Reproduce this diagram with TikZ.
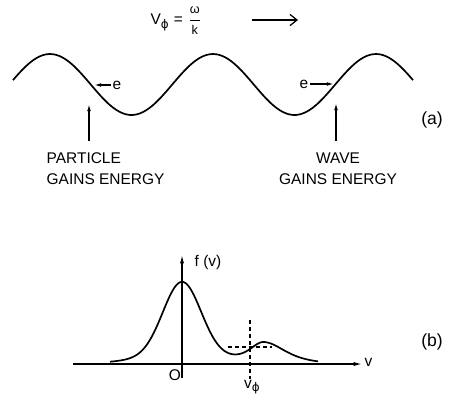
\documentclass[tikz,border=0pt]{standalone}
\usepackage{fontspec}
\setmainfont{Liberation Sans}
\newfontfamily\phifont{DejaVu Sans}
\usetikzlibrary{arrows.meta}
\newcommand{\vphi}{\raisebox{-0.45ex}{\phifont\fontsize{8.5}{10}\selectfont ϕ}}
\tikzset{
  lbl/.style={inner sep=1pt, font=\fontsize{11}{15}\selectfont},
  tag/.style={inner sep=1pt, font=\fontsize{12.5}{15}\selectfont},
  wave/.style={line width=1.2pt},
  pointer/.style={line width=0.9pt, -{Latex[length=5pt,width=2.6pt]}},
  axis/.style={line width=0.9pt, -{Latex[length=6pt,width=3pt]}},
  guide/.style={line width=0.8pt, dash pattern=on 3pt off 2pt},
  declare function={
    fmain(\v)=74*exp(-((\v-182)/19)^2/2)+8*exp(-((\v-182)/45)^2/2);
    fbump(\v)=20.5/(1+((\v-264)/((\v<264)?26:40))^2)^2;
  }
}
\begin{document}
\begin{tikzpicture}[x=0.025cm, y=-0.025cm]
\useasboundingbox (0,0) rectangle (454,397);

% Phase velocity
\node[lbl] (vphase) at (176,21) {V\vphi\,\,=\,\,$\displaystyle\frac{\hbox{\small ω}}{\hbox{\small k}}$};
\coordinate (dirA) at (252,20);
\coordinate (dirB) at (298,20);
\draw[line width=0.9pt, -{Straight Barb[length=5pt,width=8pt]}] (dirA) -- (dirB);

% Wave (a)
\draw[wave] plot[domain=13:413, samples=121, smooth] (\x, {84.5-30.5*cos(2.2086*(\x-213))});

% Electrons
\node[lbl] (eL) at (117,85) {e};
\coordinate (hitL) at (94,85);
\draw[pointer] (eL) -- (hitL);
\node[lbl] (eR) at (304,84) {e};
\coordinate (hitR) at (334,84);
\draw[pointer] (eR) -- (hitR);

% Energy labels
\node[lbl, anchor=north west, align=left] (partL) at (45,151) {PARTICLE\\GAINS ENERGY};
\coordinate (tipL) at (89,104);
\draw[pointer, shorten <=7pt] (partL.north -| tipL) -- (tipL);
\node[lbl, anchor=north, align=center] (waveR) at (338,151) {WAVE\\GAINS ENERGY};
\coordinate (tipR) at (336,103);
\draw[pointer, shorten <=7pt] (waveR.north -| tipR) -- (tipR);

\node[tag] (tagA) at (432,120) {(a)};

% Axes (b)
\coordinate (vstart) at (73,364);
\coordinate (vend) at (362,364);
\coordinate (fbot) at (182,378);
\coordinate (ftop) at (182,255);
\draw[axis] (vstart) -- (vend);
\draw[axis] (fbot) -- (ftop);
\node[lbl, anchor=west] (vlab) at (363,362) {v};
\node[lbl] (flab) at (208,262) {f (v)};
\node[lbl] (origin) at (175,375) {O};

% Distribution
\draw[wave] plot[domain=110:318, samples=120, smooth] (\x, {364-fmain(\x)-fbump(\x)});

% Phase velocity marks
\coordinate (phtop) at (250,320);
\coordinate (phbot) at (250,379);
\draw[guide] (phtop) -- (phbot);
\coordinate (plA) at (228,347);
\coordinate (plB) at (272,347);
\draw[guide] (plA) -- (plB);
\node[lbl] (vph) at (252,387) {v\vphi};

\node[tag] (tagB) at (432,342) {(b)};

\end{tikzpicture}
\end{document}
